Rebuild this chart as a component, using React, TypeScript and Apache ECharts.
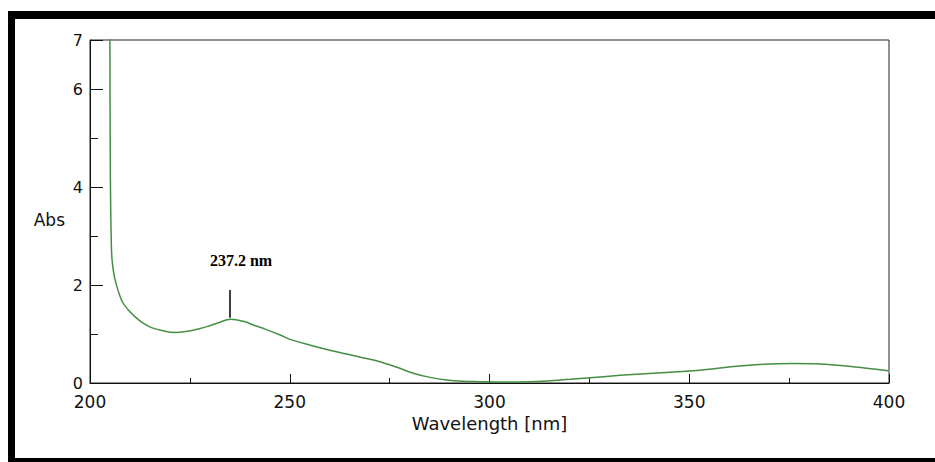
import React, { useEffect, useRef } from "react";
import * as echarts from "echarts";

const wavelengths = [204.95, 205.1, 205.35, 205.6, 206.3, 207.9, 209.5, 211.3, 213.3, 215.4, 218.0, 221.3, 224.0, 227.1, 230.0, 232.1, 235.2, 238.8, 241.0, 243.8, 247.6, 250.1, 255.9, 260.0, 264.3, 268.5, 272.6, 276.8, 280.9, 285.1, 289.3, 293.4, 297.6, 303.4, 311.8, 320.2, 328.5, 336.9, 345.2, 351.0, 359.4, 367.7, 376.0, 382.7, 391.0, 399.8];
const absorbance = [8.0, 4.2, 2.8, 2.45, 2.1, 1.69, 1.5, 1.35, 1.22, 1.13, 1.07, 1.03, 1.05, 1.1, 1.17, 1.23, 1.3, 1.25, 1.18, 1.1, 0.98, 0.89, 0.755, 0.67, 0.59, 0.51, 0.435, 0.32, 0.2, 0.115, 0.06, 0.035, 0.027, 0.02, 0.03, 0.075, 0.13, 0.18, 0.22, 0.25, 0.32, 0.38, 0.4, 0.39, 0.33, 0.25];
const peakLabel = "237.2 nm";
const peakMarker = { x: 235.1, yFrom: 1.33, yTo: 1.9 };
const peakLabelPos = [237.8, 2.49];
const xTitle = "Wavelength [nm]";
const yTitle = "Abs";

export default function App() {
  const ref = useRef<HTMLDivElement>(null);
  useEffect(() => {
    if (!ref.current) return;
    const chart = echarts.init(ref.current, undefined, { renderer: "svg" });
    const data = wavelengths.map((w, i) => [w, absorbance[i]]);
    const sans = "DejaVu Sans";
    chart.setOption({
      animation: false,
      backgroundColor: "#ffffff",
      grid: { left: 90, right: 46, top: 40, bottom: 79, show: true, borderColor: "#222", borderWidth: 1, backgroundColor: "transparent" },
      xAxis: [
        {
          type: "value", min: 200, max: 400, interval: 25,
          name: xTitle, nameLocation: "middle", nameGap: 28,
          nameTextStyle: { fontFamily: sans, fontSize: 18, color: "#111" },
          axisLine: { show: true, lineStyle: { color: "#111", width: 1 } },
          axisTick: { show: true, inside: true, length: 5, lineStyle: { color: "#111" } },
          axisLabel: { margin: 10, fontFamily: sans, fontSize: 17, color: "#111", formatter: (v: number) => (v % 50 === 0 ? String(v) : "") },
          splitLine: { show: false },
        },
        {
          type: "value", min: 200, max: 400, interval: 50, position: "bottom",
          axisLine: { show: false },
          axisTick: { show: true, inside: true, length: 9, lineStyle: { color: "#111" } },
          axisLabel: { show: false },
          splitLine: { show: false },
        },
      ],
      yAxis: [
        {
          type: "value", min: 0, max: 7, interval: 1,
          name: yTitle, nameLocation: "middle", nameGap: 25, nameRotate: 0,
          nameTextStyle: { fontFamily: sans, fontSize: 17, color: "#111", verticalAlign: "top" },
          axisLine: { show: true, lineStyle: { color: "#111", width: 1 } },
          axisTick: { show: true, inside: true, length: 8, lineStyle: { color: "#111" } },
          axisLabel: { margin: 7, fontFamily: sans, fontSize: 16, color: "#111", formatter: (v: number) => (v % 2 === 0 || v === 7 ? String(v) : "") },
          splitLine: { show: false },
        },
        {
          type: "value", min: 0, max: 7, interval: 2, position: "left",
          axisLine: { show: false },
          axisTick: { show: true, inside: true, length: 13, lineStyle: { color: "#111" } },
          axisLabel: { show: false },
          splitLine: { show: false },
        },
      ],
      graphic: [
        { type: "rect", shape: { x: 8, y: 11, width: 940, height: 8 }, style: { fill: "#000" }, silent: true },
        { type: "rect", shape: { x: 8, y: 11, width: 7, height: 460 }, style: { fill: "#000" }, silent: true },
        { type: "rect", shape: { x: 8, y: 458, width: 940, height: 8 }, style: { fill: "#000" }, silent: true },
      ],
      series: [
        {
          type: "line",
          data,
          xAxisIndex: 0,
          yAxisIndex: 0,
          showSymbol: false,
          symbol: "none",
          smooth: 0.4,
          clip: true,
          lineStyle: { color: "#448f44", width: 1.5 },
          markLine: {
            silent: true,
            symbol: ["none", "none"],
            label: { show: false },
            lineStyle: { color: "#000", width: 1.5, type: "solid" },
            data: [[{ coord: [peakMarker.x, peakMarker.yFrom] }, { coord: [peakMarker.x, peakMarker.yTo] }]],
          },
          markPoint: {
            silent: true,
            symbol: "rect",
            symbolSize: 0,
            data: [{ coord: peakLabelPos, value: peakLabel }],
            label: {
              show: true, position: "inside", formatter: peakLabel,
              fontFamily: "Liberation Serif", fontWeight: "bold", fontSize: 16, color: "#000",
            },
          },
        },
      ],
    });
    return () => chart.dispose();
  }, []);
  return <div ref={ref} style={{ position: "fixed", left: 0, top: 0, width: 935, height: 462 }} />;
}
